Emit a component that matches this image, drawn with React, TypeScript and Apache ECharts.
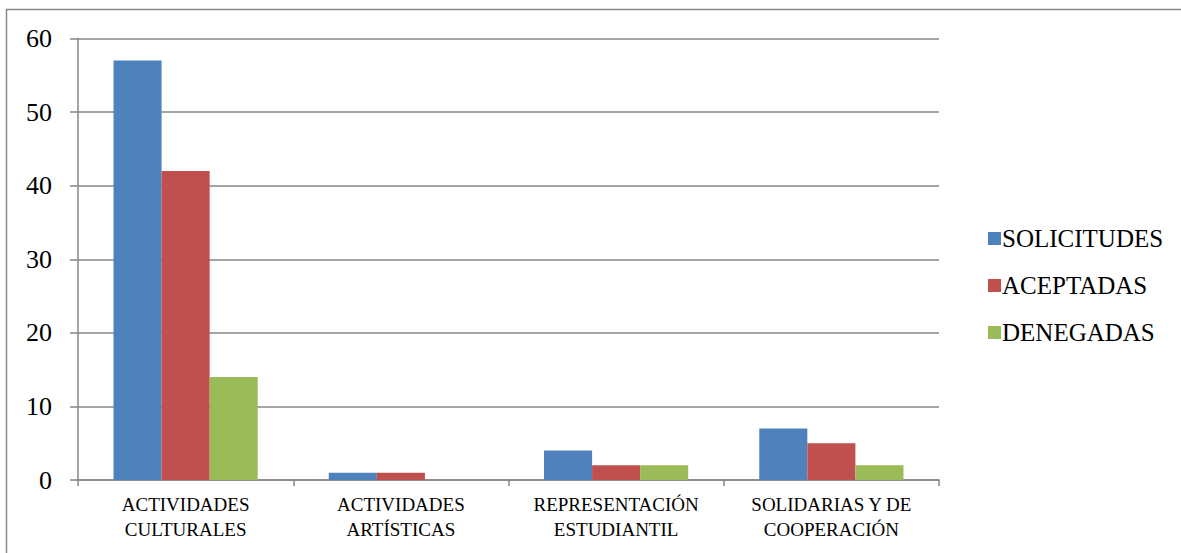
import React, { useEffect, useRef } from "react";
import * as echarts from "echarts";

const categories = [
  "ACTIVIDADES\nCULTURALES",
  "ACTIVIDADES\nARTÍSTICAS",
  "REPRESENTACIÓN\nESTUDIANTIL",
  "SOLIDARIAS Y DE\nCOOPERACIÓN",
];
const solicitudes = [57, 1, 4, 7];
const aceptadas = [42, 1, 2, 5];
const denegadas = [14, 0, 2, 2];
const seriesNames = ["SOLICITUDES", "ACEPTADAS", "DENEGADAS"];
const colors = ["#4F81BD", "#C0504D", "#9BBB59"];

const FONT = "Liberation Serif";

export default function App() {
  const ref = useRef<HTMLDivElement>(null);
  useEffect(() => {
    if (!ref.current) return;
    const chart = echarts.init(ref.current, null, { renderer: "svg" });
    const data = [solicitudes, aceptadas, denegadas];
    chart.setOption({
      animation: false,
      backgroundColor: "#ffffff",
      textStyle: { fontFamily: FONT, color: "#000" },
      graphic: [
        {
          type: "rect",
          shape: { x: 6.5, y: 9.5, width: 1400, height: 1000 },
          style: { fill: "none", stroke: "#8a8a8a", lineWidth: 1.5 },
          silent: true,
        },
      ],
      grid: { left: 78, right: 242, top: 38.5, bottom: 73, containLabel: false },
      legend: {
        orient: "vertical",
        left: 983,
        top: 221,
        itemWidth: 13,
        itemHeight: 13,
        itemGap: 22,
        icon: "rect",
        textStyle: { fontFamily: FONT, fontSize: 25, color: "#000", padding: [0, 0, 0, -4] },
        data: seriesNames,
      },
      xAxis: {
        type: "category",
        data: categories,
        boundaryGap: true,
        axisLine: { show: true, lineStyle: { color: "#868686", width: 1.5 } },
        axisTick: { show: true, length: 6, lineStyle: { color: "#868686", width: 1.5 } },
        axisLabel: {
          fontFamily: FONT,
          fontSize: 19,
          color: "#000",
          lineHeight: 25,
          margin: 12,
          interval: 0,
        },
      },
      yAxis: {
        type: "value",
        min: 0,
        max: 60,
        interval: 10,
        axisLine: { show: true, lineStyle: { color: "#868686", width: 1.5 } },
        axisTick: { show: true, length: 8, lineStyle: { color: "#868686", width: 1.5 } },
        splitLine: { show: true, lineStyle: { color: "#868686", width: 1.5 } },
        axisLabel: { fontFamily: FONT, fontSize: 26, color: "#000", margin: 26 },
      },
      series: seriesNames.map((name, i) => ({
        name,
        type: "bar",
        data: data[i],
        barGap: "0%",
        barCategoryGap: "33%",
        itemStyle: { color: colors[i] },
      })),
    });
    return () => chart.dispose();
  }, []);
  return (
    <div
      ref={ref}
      style={{ position: "fixed", left: 0, top: 0, width: 1181, height: 553 }}
    />
  );
}
